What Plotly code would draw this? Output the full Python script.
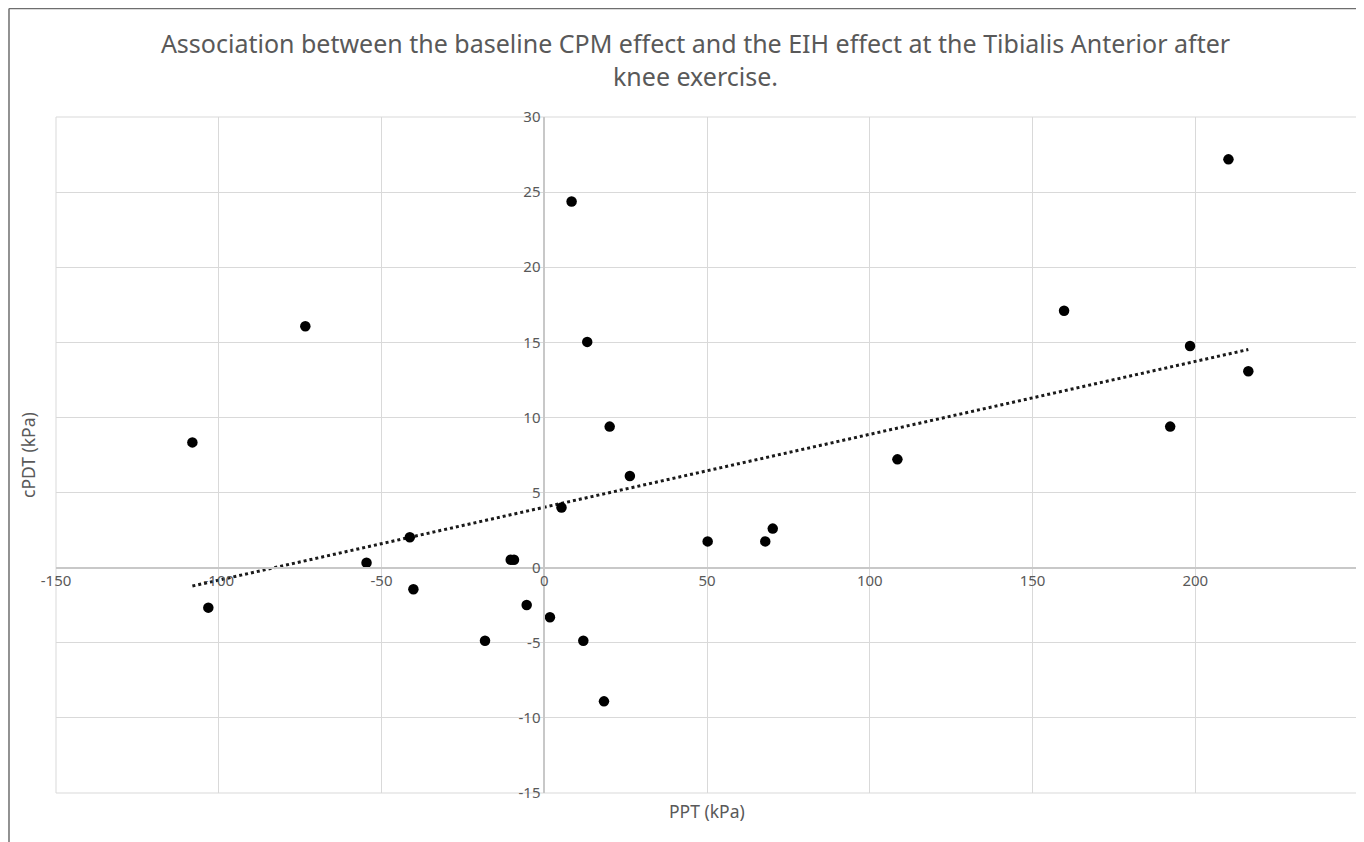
import numpy as np
import plotly.graph_objects as go

# Data
ppt_kpa = [-108.1, -103.2, -73.4, -54.6, -41.3, -40.2, -18.2, -10.3, -9.3, -5.4,
           1.75, 5.3, 8.4, 12.0, 13.2, 18.35, 20.1, 26.3, 50.2, 67.9,
           70.2, 108.5, 159.7, 192.3, 198.4, 210.2, 216.3]
cpdt_kpa = [8.34, -2.66, 16.07, 0.33, 2.02, -1.44, -4.86, 0.53, 0.53, -2.48,
            -3.3, 4.01, 24.37, -4.86, 15.03, -8.9, 9.39, 6.1, 1.75, 1.75,
            2.6, 7.21, 17.1, 9.39, 14.76, 27.18, 13.07]

x_ticks = [-150, -100, -50, 0, 50, 100, 150, 200, 250]
y_ticks = [-15, -10, -5, 0, 5, 10, 15, 20, 25, 30]
x_tick_labels = ["-150", "-100", "-50", "0", "50", "100", "150", "200", "250"]
y_tick_labels = ["-15", "-10", "-5", "0", "5", "10", "15", "20", "25", "30"]
x_range = [-150, 250]
y_range = [-15, 30]

title_text = ("Association between the baseline CPM effect and the EIH effect at the Tibialis Anterior after"
              "<br>knee exercise.")
x_title = "PPT (kPa)"
y_title = "cPDT (kPa)"

# Linear trendline (least squares)
slope, intercept = np.polyfit(ppt_kpa, cpdt_kpa, 1)
trend_x = [min(ppt_kpa), max(ppt_kpa)]
trend_y = [slope * v + intercept for v in trend_x]

grey_text = "#595959"
font_family = "Noto Sans"

fig = go.Figure()
fig.add_trace(go.Scatter(
    x=trend_x, y=trend_y, mode="lines",
    line=dict(color="#1a1a1a", width=3, dash="dot"),
    hoverinfo="skip", showlegend=False,
))
fig.add_trace(go.Scatter(
    x=ppt_kpa, y=cpdt_kpa, mode="markers",
    marker=dict(color="black", size=10.5),
    showlegend=False,
))

x_pos = (0 - y_range[0]) / (y_range[1] - y_range[0])
y_pos = (0 - x_range[0]) / (x_range[1] - x_range[0])

fig.update_layout(
    width=1356, height=834,
    margin=dict(l=47.5, r=6, t=109, b=49),
    paper_bgcolor="white", plot_bgcolor="white",
    font=dict(family=font_family, color=grey_text, size=14),
    title=dict(text=title_text, x=0.507, xanchor="center", y=0.946, yanchor="top",
               font=dict(family=font_family, size=25, color=grey_text)),
    xaxis=dict(range=x_range, tickvals=x_ticks, ticktext=x_tick_labels,
               showgrid=True, gridcolor="#d9d9d9",
               gridwidth=1, zeroline=False, showline=True, linecolor="#c8c8c8",
               linewidth=1.5, anchor="free", position=x_pos, ticks="",
               tickfont=dict(size=15, color=grey_text), fixedrange=True),
    yaxis=dict(range=y_range, tickvals=y_ticks, ticktext=y_tick_labels,
               showgrid=True, gridcolor="#d9d9d9",
               gridwidth=1, zeroline=False, showline=True, linecolor="#c8c8c8",
               linewidth=1.5, anchor="free", position=y_pos, ticks="",
               tickfont=dict(size=15, color=grey_text), fixedrange=True),
    annotations=[
        dict(text=x_title, xref="paper", yref="paper", x=0.5, y=-0.026,
             xanchor="center", yanchor="middle", showarrow=False,
             font=dict(size=17.5, color=grey_text)),
        dict(text=y_title, xref="paper", yref="paper", x=-0.0215, y=0.5,
             xanchor="center", yanchor="middle", textangle=-90, showarrow=False,
             font=dict(size=17.5, color=grey_text)),
    ],
    shapes=[
        # outer border of the chart area (cropped)
        dict(type="line", xref="paper", yref="paper", x0=-0.0361, x1=1.02,
             y0=1.1605, y1=1.1605, line=dict(color="#6e6e6e", width=1.5)),
        dict(type="line", xref="paper", yref="paper", x0=-0.0361, x1=-0.0361,
             y0=1.1605, y1=-0.08, line=dict(color="#6e6e6e", width=1.5)),
        # outer boundary of plot area
        dict(type="rect", xref="paper", yref="paper", x0=0, x1=1, y0=0, y1=1,
             line=dict(color="#d9d9d9", width=1), layer="below"),
    ],
)

fig.write_html("out.html")
